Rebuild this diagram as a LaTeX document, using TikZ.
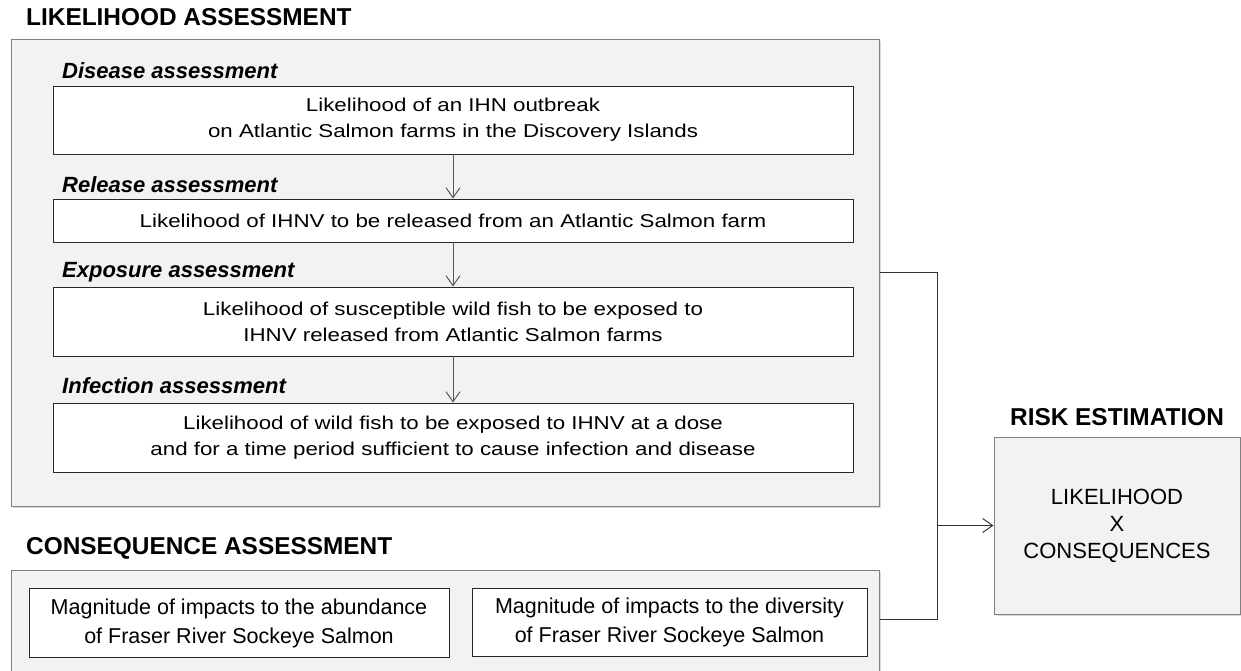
\documentclass[tikz,border=0pt]{standalone}
\usepackage{fontspec}
\setmainfont{Liberation Sans}
\newfontfamily\widefont[FakeStretch=1.2]{Liberation Sans}
\usetikzlibrary{arrows.meta, shadows, positioning}

\begin{document}
\begin{tikzpicture}[x=1pt, y=-1pt,
  >={Straight Barb[length=10pt, width=14pt]},
  outerbox/.style={draw=black!50, line width=1pt, fill=black!5,
    drop shadow={shadow xshift=1.5pt, shadow yshift=-1.5pt, opacity=0.3}},
  stepbox/.style={draw=black!85, line width=0.9pt, fill=white, minimum width=800,
    align=center, font=\widefont\fontsize{18.6}{26}\selectfont},
  impactbox/.style={draw=black!85, line width=0.9pt, fill=white, minimum height=68.5,
    align=center, font=\fontsize{21.5}{29}\selectfont},
  headline/.style={anchor=west, inner sep=0, font=\bfseries\fontsize{24.4}{29}\selectfont},
  stagelabel/.style={anchor=west, inner sep=0, font=\bfseries\itshape\fontsize{22}{26}\selectfont},
  flow/.style={->, draw=black!65, line width=1pt},
  link/.style={draw=black!80, line width=1pt}]
  \useasboundingbox (0,0) rectangle (1241,670);
  \node[headline] (liketitle) at (26,17) {LIKELIHOOD ASSESSMENT};
  \node[outerbox, minimum width=868, minimum height=467] (likeli) at (445,272.5) {};
  \node[stagelabel] (dislab) at (62,71) {Disease assessment};
  \node[stepbox, minimum height=68] (disease) at (453,120)
    {Likelihood of an IHN outbreak\\on Atlantic Salmon farms in the Discovery Islands};
  \node[stagelabel] (rellab) at (62,185) {Release assessment};
  \node[stepbox, minimum height=43] (release) at (453,220.5)
    {Likelihood of IHNV to be released from an Atlantic Salmon farm};
  \node[stagelabel] (explab) at (62,272) {Exposure assessment};
  \node[stepbox, minimum height=69] (exposure) at (453,321.5)
    {Likelihood of susceptible wild fish to be exposed to\\IHNV released from Atlantic Salmon farms};
  \node[stagelabel] (inflab) at (62,386) {Infection assessment};
  \node[stepbox, minimum height=69] (infection) at (453,437.5)
    {Likelihood of wild fish to be exposed to IHNV at a dose\\and for a time period sufficient to cause infection and disease};
  \draw[flow] (disease) -- (release);
  \draw[flow] (release) -- (exposure);
  \draw[flow] (exposure) -- (infection);

  \node[headline] (contitle) at (26,548) {CONSEQUENCE ASSESSMENT};
  \node[outerbox, minimum width=868, minimum height=106] (conseq) at (445,623) {};
  \node[impactbox, minimum width=420] (abundance) at (239,623)
    {Magnitude of impacts to the abundance\\of Fraser River Sockeye Salmon};
  \node[impactbox, minimum width=395] (diversity) at (669.5,622.5)
    {Magnitude of impacts to the diversity\\of Fraser River Sockeye Salmon};

  \node[headline, anchor=center] (risktitle) at (1117,417) {RISK ESTIMATION};
  \node[outerbox, minimum width=246, minimum height=177, align=center,
    font=\fontsize{22}{27}\selectfont] (risk) at (1117,525.5)
    {LIKELIHOOD\\X\\CONSEQUENCES};

  \coordinate (join) at (937,525.5);
  \coordinate (conseqlink) at ([yshift=4pt]conseq.east);
  \draw[link] (likeli.east) -- (likeli.east -| join) -- (join |- conseqlink) -- (conseqlink);
  \draw[link, ->] (join) -- (risk);
\end{tikzpicture}
\end{document}
